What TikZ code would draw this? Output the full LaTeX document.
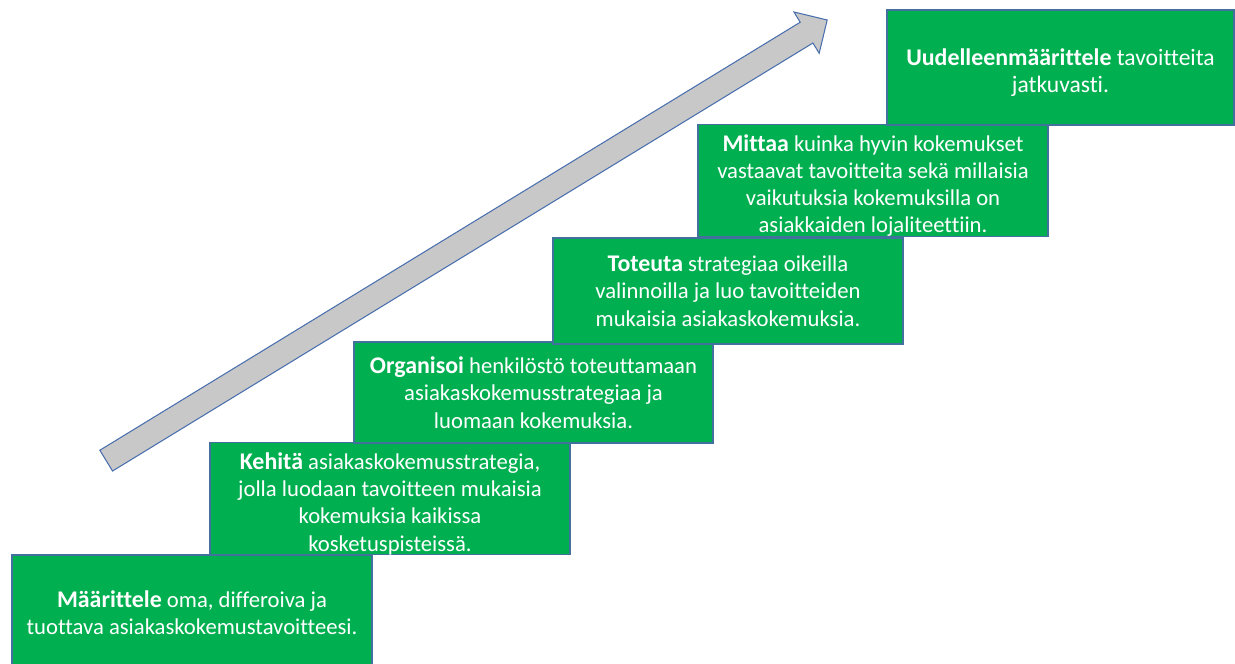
\documentclass[tikz,border=0pt]{standalone}
\usepackage{fontspec}
\setmainfont{Carlito}[Ligatures=NoCommon]
\usepackage{tikz}
\usetikzlibrary{shapes.arrows}

\definecolor{stepgreen}{HTML}{00B050}
\definecolor{stepedge}{HTML}{41719C}
\definecolor{trendgray}{HTML}{C8C8C8}
\definecolor{trendedge}{HTML}{4A6FAE}

% bold lead word of each step; optional strut pushes the text block down
\newcommand{\lead}[2][0pt]{\rule{0pt}{#1}{\bfseries\fontsize{13.6}{15.5}\selectfont #2}}

\begin{document}
\begin{tikzpicture}[every node/.style={font=\fontsize{12.9}{15.5}\selectfont},
  stepbox/.style={draw=stepedge, line width=0.6pt, fill=stepgreen, text=white, align=center, inner sep=0pt}]
  \useasboundingbox (0,0) rectangle (24.7,13.28);
  \clip (0,0) rectangle (24.7,13.28);

  % Rising arrow behind the steps
  \node[single arrow, draw=trendedge, line width=0.6pt, fill=trendgray, minimum height=16.9cm, minimum width=0.94cm,
        single arrow head extend=0.24cm, inner xsep=0pt, inner ysep=0.233cm, rotate=31.43] (trend) at (9.23,8.41) {};

  % Steps, bottom to top
  \node[stepbox, minimum width=7.2cm, minimum height=2.3cm] (mar) at (3.84,1.03)
    {\lead{Määrittele} oma, differoiva ja\\ tuottava asiakaskokemustavoitteesi.};
  \node[stepbox, minimum width=7.2cm, minimum height=2.22cm] (keh) at (7.8,3.31)
    {\lead[15.6pt]{Kehitä} asiakaskokemusstrategia,\\ jolla luodaan tavoitteen mukaisia\\ kokemuksia kaikissa\\ kosketuspisteissä.};
  \node[stepbox, minimum width=7.18cm, minimum height=2.02cm] (org) at (10.67,5.43)
    {\lead{Organisoi} henkilöstö toteuttamaan\\ asiakaskokemusstrategiaa ja\\ luomaan kokemuksia.};
  \node[stepbox, minimum width=7cm, minimum height=2.12cm] (tot) at (14.56,7.46)
    {\lead{Toteuta} strategiaa oikeilla\\ valinnoilla ja luo tavoitteiden\\ mukaisia asiakaskokemuksia.};
  \node[stepbox, minimum width=7cm, minimum height=2.22cm] (mit) at (17.46,9.67)
    {\lead[15.2pt]{Mittaa} kuinka hyvin kokemukset\\ vastaavat tavoitteita sekä millaisia\\ vaikutuksia kokemuksilla on\\ asiakkaiden lojaliteettiin.};
  \node[stepbox, minimum width=6.94cm, minimum height=2.3cm, font=\fontsize{13.4}{15.5}\selectfont] (uud) at (21.21,11.93)
    {\lead[15.2pt]{Uudelleenmäärittele} tavoitteita\\ jatkuvasti.};
\end{tikzpicture}
\end{document}
